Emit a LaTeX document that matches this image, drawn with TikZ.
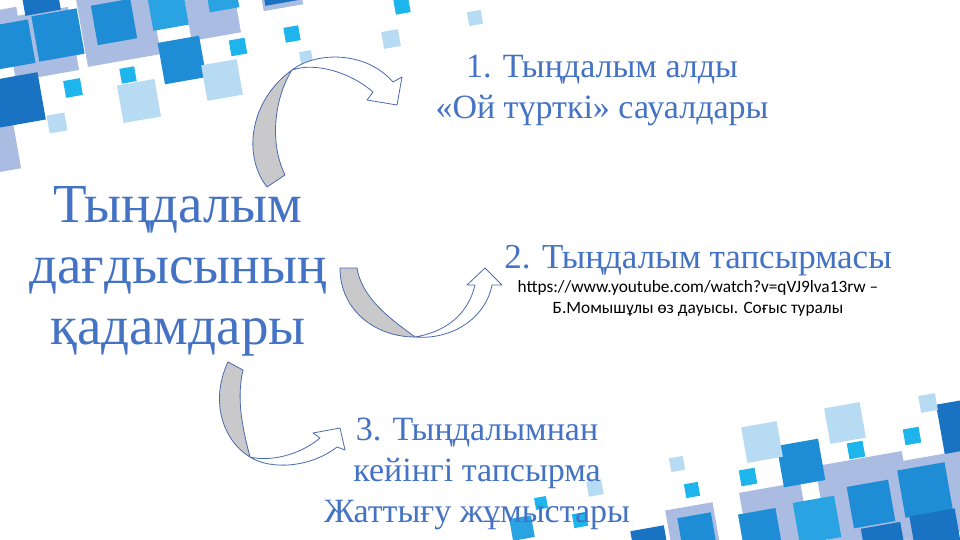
\documentclass[tikz,border=0pt]{standalone}
\usepackage{fontspec}
\setmainfont{Liberation Serif}
\newfontfamily\calfont{Carlito}
\usepackage{tikz}
\usetikzlibrary{calc,backgrounds}

\definecolor{txtblue}{HTML}{4472C4}
\definecolor{arrowline}{HTML}{4A6AAE}
\definecolor{arrowgray}{HTML}{C9C9CC}
\definecolor{sqlav}{HTML}{AABCE1}
\definecolor{sqmid}{HTML}{1F8DD6}
\definecolor{sqdark}{HTML}{1A73C2}
\definecolor{sqbright}{HTML}{2AA3E3}
\definecolor{sqcyan}{HTML}{1EB4EC}
\definecolor{sqlight}{HTML}{B7DBF3}

\tikzset{
  stepstitle/.style={text=txtblue, align=center, font=\fontsize{55}{61}\selectfont},
  steptext/.style={text=txtblue, align=center, font=\fontsize{34}{41}\selectfont},
  linktext/.style={text=black, align=center, font=\calfont\fontsize{17.3}{21}\selectfont},
  bandarrow/.style={draw=arrowline, line width=0.8pt, line join=round}
}

% one tilted square of the border pattern
\newcommand{\tile}[4]{\fill[#4, rotate around={10:(#1,#2)}] ({#1-#3/2},{#2-#3/2}) rectangle ({#1+#3/2},{#2+#3/2});}

\begin{document}
\begin{tikzpicture}[x=1pt,y=-1pt]
\useasboundingbox (0,0) rectangle (960,540);
\fill[white] (0,0) rectangle (960,540);
\clip (0,0) rectangle (960,540);

% squares, top left
\foreach \x/\y/\s/\c in {118/24/74/sqlav, 42/44/64/sqlav, 0/30/40/sqlav, 212/12/50/sqlav,
  280/-12/40/sqlav, -5/150/45/sqlav,
  114/22/40/sqmid, 58/35/46/sqmid, 10/45/44/sqmid, 18/100/48/sqdark, 40/-5/36/sqdark,
  168/10/36/sqbright, 222/-5/30/sqbright, 182/60/42/sqmid, 280/-15/36/sqdark,
  222/80/36/sqlight, 139/101/38/sqlight, 57/123/18/sqlight, 306/57/12/sqlight,
  391/39/17/sqlight, 475/18/14/sqlight,
  128/75/15/sqcyan, 73/88/17/sqcyan, 238/47/16/sqcyan, 292/34/15/sqcyan, 402/6/15/sqcyan}
  {\tile{\x}{\y}{\s}{\c}}

% squares, bottom right
\foreach \x/\y/\s/\c in {866/502/88/sqlav, 940/495/80/sqlav, 775/518/62/sqlav, 693/530/48/sqlav,
  871/504/42/sqmid, 925/490/48/sqmid, 801/463/42/sqmid, 965/425/50/sqdark,
  936/535/46/sqdark, 884/545/40/sqdark, 760/530/38/sqmid, 817/520/42/sqbright,
  697/532/34/sqmid, 650/545/34/sqdark, 522/528/22/sqbright,
  762/442/36/sqlight, 845/423/36/sqlight, 928/403/17/sqlight, 677/464/14/sqlight,
  595/488/15/sqlight,
  692/490/14/sqcyan, 748/477/16/sqcyan, 856/450/16/sqcyan, 912/436/16/sqcyan,
  580/520/14/sqcyan, 541/503/12/sqcyan}
  {\tile{\x}{\y}{\s}{\c}}

% texts
\node[stepstitle] (steps) at (178,271) {Тыңдалым\\дағдысының\\қадамдары};
\node[steptext] (before) at (602,90) {1. Тыңдалым алды\\«Ой түрткі» сауалдары};
\node[steptext, anchor=base, font=\fontsize{35}{41}\selectfont] (during) at (698,268) {2. Тыңдалым тапсырмасы};
\node[linktext, anchor=north] (link) at ($(during.base)+(0,9)$)
  {https://www.youtube.com/watch?v=qVJ9lva13rw –\\Б.Момышұлы өз дауысы. Соғыс туралы};
\node[steptext] (after) at (477,474) {3. Тыңдалымнан\\кейінгі тапсырма\\Жаттығу жұмыстары};

% curved arrows
\filldraw[bandarrow, fill=white] (292,70) .. controls (315,52) and (365,50) .. (393,82) -- (402,77)
  -- (397,105) -- (367,100) -- (373,92) .. controls (350,72) and (315,62) .. (292,70) -- cycle;
\filldraw[bandarrow, fill=arrowgray] (267,187) .. controls (242,155) and (250,100) .. (292,70)
  .. controls (276,95) and (268,140) .. (285,175) -- cycle;

\filldraw[bandarrow, fill=white] (415,337) .. controls (450,340) and (485,320) .. (492,285) -- (502,285)
  -- (485,268) -- (467,285) -- (475,285) .. controls (468,315) and (445,332) .. (415,337) -- cycle;
\filldraw[bandarrow, fill=arrowgray] (340,268) .. controls (340,310) and (375,337) .. (415,337)
  .. controls (395,322) and (362,300) .. (357,268) -- cycle;

\filldraw[bandarrow, fill=white] (250,457) .. controls (270,470) and (310,468) .. (337,447) -- (345,450)
  -- (340,428) -- (313,433) -- (320,438) .. controls (300,455) and (270,462) .. (250,457) -- cycle;
\filldraw[bandarrow, fill=arrowgray] (228,362) .. controls (210,400) and (222,440) .. (250,457)
  .. controls (243,430) and (236,400) .. (243,370) -- cycle;
\end{tikzpicture}
\end{document}
